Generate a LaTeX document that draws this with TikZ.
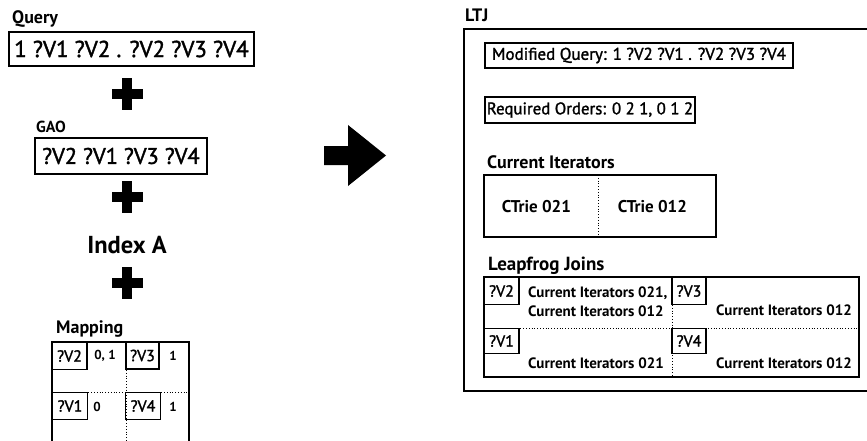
\documentclass[tikz,border=0pt]{standalone}
\usepackage{fontspec}
\setmainfont{PT Sans}
\newfontfamily\medfont[FakeBold=1.6]{PT Sans}
\begin{document}
\begin{tikzpicture}[x=1pt,y=-1pt,
  box/.style={draw, line width=1.2pt, inner sep=0pt, anchor=center},
  frame/.style={line width=1.4pt},
  divider/.style={line width=0.8pt, dotted},
  lbl/.style={anchor=base west, inner sep=0pt, font=\bfseries\fontsize{18}{20}\selectfont},
  varbox/.style={box, minimum width=35pt, minimum height=27pt, font=\medfont\fontsize{16}{18}\selectfont},
  small/.style={inner sep=0pt, font=\bfseries\fontsize{15}{19}\selectfont},
  num/.style={inner sep=0pt, font=\bfseries\fontsize{13}{16}\selectfont},
  plussign/.pic={\fill (-15.5,-5) rectangle (15.5,5); \fill (-5,-16) rectangle (5,16);}
]
\useasboundingbox (0,0) rectangle (867,441);
\clip (0,0) rectangle (867,441);

% ---------- inputs ----------
\node[lbl] (qlab) at (12,24) {Query};
\node[box, minimum width=245pt, minimum height=34pt,
      font=\medfont\fontsize{23}{26}\selectfont] (query) at (131.5,49) {1 ?V1 ?V2 . ?V2 ?V3 ?V4};
\pic at (127,94) {plussign};

\node[lbl, font=\bfseries\fontsize{16}{18}\selectfont] (gaolab) at (36,132) {GAO};
\node[box, minimum width=172pt, minimum height=36pt,
      font=\medfont\fontsize{22.5}{26}\selectfont] (gao) at (121,156) {?V2 ?V1 ?V3 ?V4};
\pic at (127,197) {plussign};

\node[inner sep=0pt, font=\bfseries\fontsize{24.5}{27}\selectfont] (index) at (127,245) {Index A};
\pic at (127,283) {plussign};

% ---------- mapping ----------
\node[lbl] (maplab) at (56,333) {Mapping};
\draw[frame] (52,342) rectangle (189,480);
\draw[divider] (126,342) -- (126,480);
\draw[divider] (52,392) -- (189,392);
\node[varbox] (m2) at (69.5,356) {?V2};
\node[num] (m2v) at (105,356) {0, 1};
\node[varbox, minimum width=33pt] (m3) at (142.5,355.5) {?V3};
\node[num] (m3v) at (173,356) {1};
\node[varbox] (m1) at (70,406) {?V1};
\node[num] (m1v) at (97,407) {0};
\node[varbox] (m4) at (143,406) {?V4};
\node[num] (m4v) at (173,407) {1};

% ---------- arrow ----------
\fill (324,146) -- (348,146) -- (348,125) -- (386,155.5) -- (348,186) -- (348,165) -- (324,165) -- cycle;

% ---------- LTJ ----------
\node[lbl] (ltjlab) at (465,22) {LTJ};
\draw[frame] (464,29) rectangle (890,391);

\node[box, minimum width=308pt, minimum height=25pt,
      font=\medfont\fontsize{17}{19}\selectfont] (modq) at (639,55.5) {Modified Query: 1 ?V2 ?V1 . ?V2 ?V3 ?V4};
\node[box, minimum width=210pt, minimum height=26pt,
      font=\medfont\fontsize{16.8}{19}\selectfont] (req) at (590,110) {Required Orders: 0 2 1, 0 1 2};

\node[lbl] (cilab) at (487,168) {Current Iterators};
\draw[frame] (484,175) rectangle (716,237);
\draw[divider] (598,175) -- (598,237);
\node[inner sep=0pt, font=\bfseries\fontsize{17}{20}\selectfont] (c021) at (536.5,207) {CTrie 021};
\node[inner sep=0pt, font=\bfseries\fontsize{17}{20}\selectfont] (c012) at (652.5,207) {CTrie 012};

\node[lbl, font=\bfseries\fontsize{19}{21}\selectfont] (ljlab) at (488,270) {Leapfrog Joins};
\draw[frame] (484,277) rectangle (859,377);
\draw[divider] (484,328) -- (859,328);
\draw[divider] (672,277) -- (672,377);

\node[varbox] (l2) at (501.5,291) {?V2};
\node[small, anchor=west, align=left] (l2t) at (528,302) {Current Iterators 021,\\Current Iterators 012};
\node[varbox, minimum width=34pt] (l3) at (689,291) {?V3};
\node[small] (l3t) at (784,310) {Current Iterators 012};
\node[varbox, minimum height=25pt] (l1) at (501.5,341) {?V1};
\node[small] (l1t) at (596,363) {Current Iterators 021};
\node[varbox, minimum width=34pt, minimum height=25pt] (l4) at (689,341) {?V4};
\node[small] (l4t) at (784,363) {Current Iterators 012};
\end{tikzpicture}
\end{document}
